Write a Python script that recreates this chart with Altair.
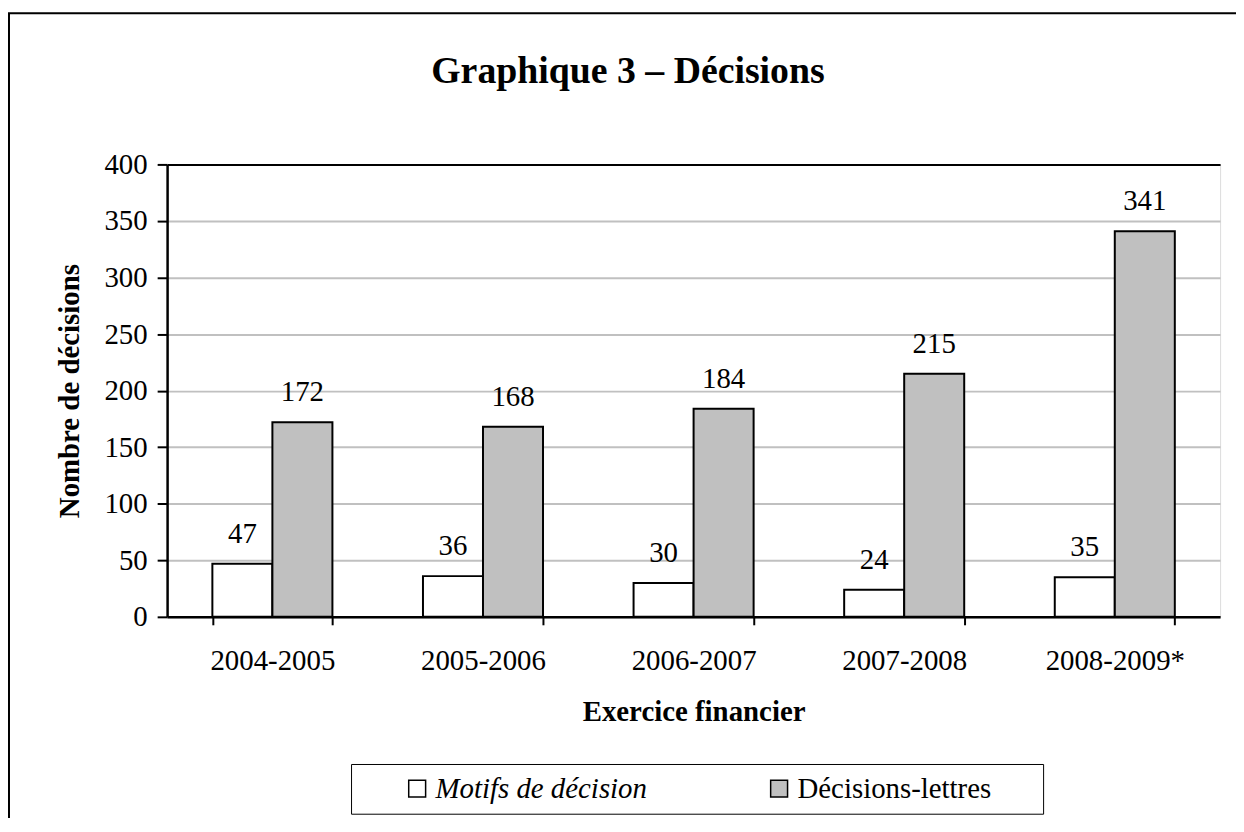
import altair as alt
import pandas as pd

categories = ["2004-2005", "2005-2006", "2006-2007", "2007-2008", "2008-2009*"]
series = ["Motifs de décision", "Décisions-lettres"]
motifs = [47, 36, 30, 24, 35]
lettres = [172, 168, 184, 215, 341]
y_ticks = [0, 50, 100, 150, 200, 250, 300, 350, 400]
fills = ["#ffffff", "#c0c0c0"]

rows = []
for c, m, l in zip(categories, motifs, lettres):
    rows.append({"Exercice": c, "Serie": series[0], "Valeur": m})
    rows.append({"Exercice": c, "Serie": series[1], "Valeur": l})
df = pd.DataFrame(rows)

FONT = "Liberation Serif"
W, H = 1059, 455

x = alt.X(
    "Exercice:N", sort=categories, title="Exercice financier",
    scale=alt.Scale(paddingInner=0.43, paddingOuter=0.215),
    axis=alt.Axis(
        labelAngle=0, tickBand="extent", tickSize=8, tickWidth=2, tickColor="black",
        domainColor="black", domainWidth=2.5, labelFont=FONT, labelFontSize=29,
        labelColor="black", labelPadding=22, grid=False,
        titleFont=FONT, titleFontSize=29, titleFontWeight="bold", titleColor="black",
        titleX=W / 2, titleY=104, titleBaseline="alphabetic", titleAlign="center",
    ),
)
y = alt.Y(
    "Valeur:Q", title="Nombre de décisions",
    scale=alt.Scale(domain=[0, 400], nice=False),
    axis=alt.Axis(
        values=y_ticks, tickSize=10, tickWidth=2, tickColor="black",
        domainColor="black", domainWidth=2.5, labelFont=FONT, labelFontSize=29,
        labelColor="black", labelPadding=10, grid=True,
        gridColor={"condition": {"test": "datum.value === 400", "value": "black"}, "value": "#c0c0c0"},
        gridWidth=2,
        titleFont=FONT, titleFontSize=29, titleFontWeight="bold", titleColor="black",
        titleX=-98, titleY=H / 2, titleAlign="center", titleBaseline="middle",
    ),
)
xoff = alt.XOffset("Serie:N", sort=series, scale=alt.Scale(paddingInner=0, paddingOuter=0))

base = alt.Chart(df)

bars = base.mark_bar(stroke="black", strokeWidth=2, opacity=1).encode(
    x=x, xOffset=xoff, y=y,
    color=alt.Color(
        "Serie:N", sort=series,
        scale=alt.Scale(domain=series, range=fills),
        legend=alt.Legend(
            title=None, orient="none", legendX=185, legendY=603, direction="horizontal",
            symbolType="square", symbolSize=289, symbolStrokeColor="black",
            symbolStrokeWidth=1.5, symbolOpacity=1,
            labelFont=FONT, labelFontSize=29, labelColor="black", labelLimit=500,
            labelFontStyle=alt.ExprRef("datum.value === 'Motifs de décision' ? 'italic' : 'normal'"),
            labelExpr="datum.value === 'Décisions-lettres' ? datum.label + '\u2800\u2800' : datum.label",
            labelOffset=4, symbolOffset=42, columnPadding=76, padding=10,
            strokeColor="black",
        ),
    ),
)

labels = base.mark_text(font=FONT, fontSize=29, color="black", baseline="middle", dy=-30).encode(
    x=alt.X("Exercice:N", sort=categories),
    xOffset=alt.XOffset("Serie:N", sort=series),
    y=alt.Y("Valeur:Q"),
    text=alt.Text("Valeur:Q"),
)

frame = alt.Chart(alt.Data(values=[{"f": 1}])).mark_rect(
    fillOpacity=0, stroke="black", strokeWidth=2
).encode(
    x=alt.value(-159), x2=alt.value(1300), y=alt.value(-152), y2=alt.value(700)
)

chart = alt.layer(frame, bars, labels).properties(
    width=W, height=H,
    autosize=alt.AutoSizeParams(type="none"),
    padding={"left": 160, "top": 155, "right": 16, "bottom": 200},
    title=alt.TitleParams(
        "Graphique 3 – Décisions", font=FONT, fontSize=38, fontWeight="bold",
        color="black", anchor="middle", frame="group", dx=-66, dy=109,
        baseline="alphabetic", offset=0,
    ),
).configure_view(stroke="black", strokeWidth=2).configure_legend(strokeWidth=2.5).configure(
    background="white"
)

chart.save("out.html", embed_options={"renderer": "svg", "actions": False})
